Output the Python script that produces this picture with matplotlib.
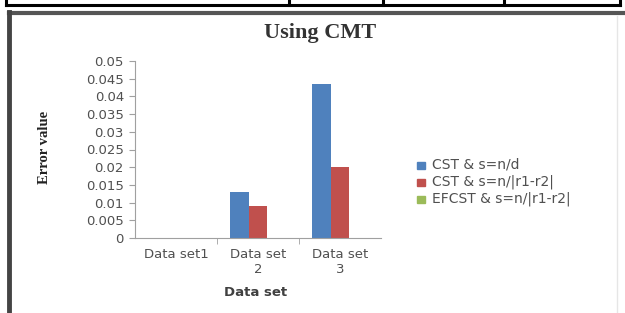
import matplotlib
matplotlib.use("Agg")
import matplotlib.pyplot as plt
from matplotlib.lines import Line2D
from matplotlib.patches import Rectangle
import numpy as np

categories = ["Data set1", "Data set\n2", "Data set\n3"]
series_names = ["CST & s=n/d", "CST & s=n/|r1-r2|", "EFCST & s=n/|r1-r2|"]
cst_nd = [0.0, 0.013, 0.0435]
cst_r = [0.0, 0.009, 0.020]
efcst_r = [0.0, 0.0, 0.0]
yticks = [0, 0.005, 0.01, 0.015, 0.02, 0.025, 0.03, 0.035, 0.04, 0.045, 0.05]
ytick_labels = ["0", "0.005", "0.01", "0.015", "0.02", "0.025", "0.03", "0.035", "0.04", "0.045", "0.05"]
colors = ["#4F81BD", "#C0504D", "#9BBB59"]

W, H = 625, 313
fig = plt.figure(figsize=(W / 100, H / 100), dpi=100)
fig.patch.set_facecolor("white")

def px(x, y):
    return x / W, 1 - y / H

# table remnant at top
fig.add_artist(Line2D([6 / W, 620 / W], [1 - 5 / H, 1 - 5 / H], color="black", lw=2.2))
for xv in [6, 289, 383, 504, 620]:
    fig.add_artist(Line2D([xv / W, xv / W], [1 - 5 / H, 1.0], color="black", lw=2.2))

# chart frame
fig.add_artist(Line2D([9 / W, 1.0], [1 - 13 / H, 1 - 13 / H], color="#555555", lw=3))
fig.add_artist(Line2D([9 / W, 9 / W], [0, 1 - 12 / H], color="#444444", lw=3.5))
fig.add_artist(Line2D([617 / W, 617 / W], [0, 1 - 16 / H], color="#e6e6e6", lw=1))

left, right = 135, 381
top, bottom = 61, 238
ax = fig.add_axes([left / W, 1 - bottom / H, (right - left) / W, (bottom - top) / H])

x = np.arange(len(categories))
w = 0.23
for i, (vals, c, name) in enumerate(zip([cst_nd, cst_r, efcst_r], colors, series_names)):
    ax.bar(x + (i - 1) * w, vals, width=w, color=c, label=name)

ax.set_xlim(-0.5, len(categories) - 0.5)
ax.set_ylim(0, 0.05)
ax.set_yticks(yticks)
ax.set_yticklabels(ytick_labels)
ax.set_xticks(x)
ax.set_xticklabels(categories, linespacing=1.25)
ax.set_xticks([0.5, 1.5], minor=True)
ax.tick_params(axis="x", which="major", length=0, pad=7)
ax.tick_params(axis="x", which="minor", length=4, color="#a0a0a0")
ax.tick_params(axis="y", length=4, color="#a0a0a0", pad=4)
for lab in ax.get_xticklabels() + ax.get_yticklabels():
    lab.set_fontfamily("DejaVu Sans")
    lab.set_fontsize(9.5)
    lab.set_color("#505050")
for s in ["top", "right"]:
    ax.spines[s].set_visible(False)
for s in ["left", "bottom"]:
    ax.spines[s].set_color("#a0a0a0")
    ax.spines[s].set_linewidth(0.8)

fig.text(*px(320, 33), "Using CMT", ha="center", va="center",
         fontfamily="Liberation Serif", fontweight="bold", fontsize=16, color="#333333")
fig.text(*px(44, 147), "Error value", ha="center", va="center", rotation=90,
         fontfamily="Liberation Serif", fontweight="bold", fontsize=10.5, color="#222222")
fig.text(*px(256, 292), "Data set", ha="center", va="center",
         fontfamily="DejaVu Sans", fontweight="bold", fontsize=9.5, color="#404040")

# legend
for i, (c, name) in enumerate(zip(colors, series_names)):
    yc = 165 + i * 17
    fig.add_artist(Rectangle((417 / W, 1 - (yc + 3.5) / H), 8 / W, 7 / H, color=c,
                             transform=fig.transFigure))
    fig.text(432 / W, 1 - yc / H, name, ha="left", va="center",
             fontfamily="DejaVu Sans", fontsize=10, color="#505050")

fig.savefig("out.png", dpi=100)
